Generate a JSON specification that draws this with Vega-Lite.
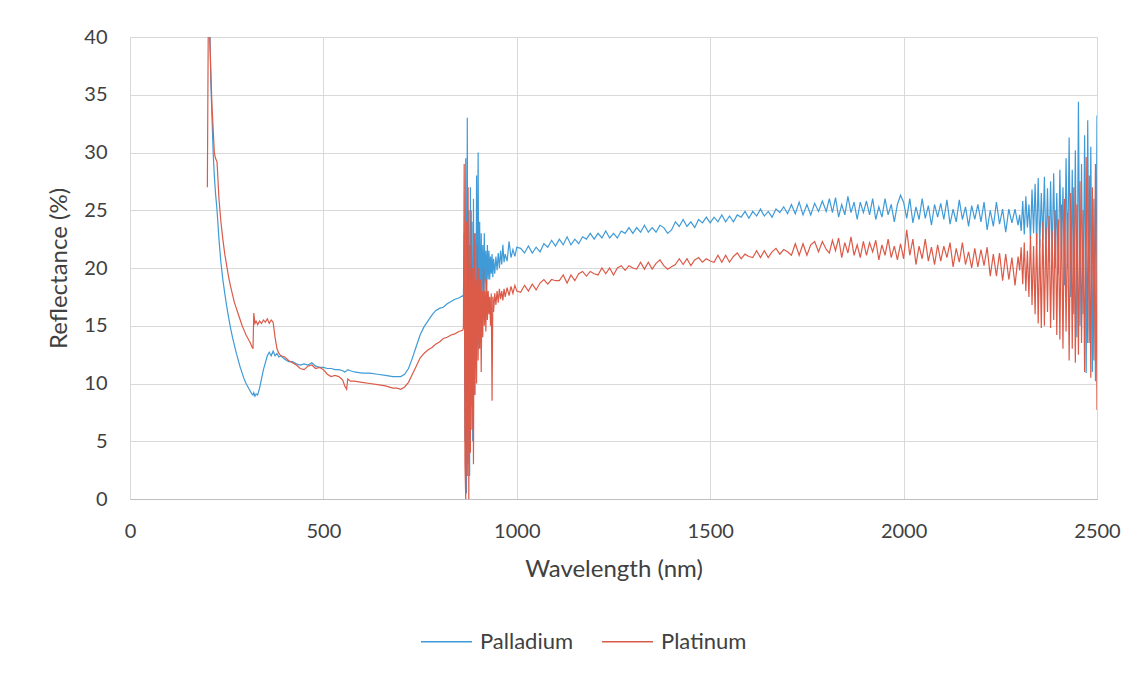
{
  "$schema": "https://vega.github.io/schema/vega-lite/v6.json",
  "width": 967,
  "height": 462,
  "autosize": {"type": "none"},
  "padding": {"left": 130, "top": 37, "right": 44, "bottom": 178},
  "background": "white",
  "config": {"font": "Lato", "view": {"stroke": "#d9d9d9", "strokeWidth": 1}},
  "data": {"values": [
    {"w":200,"Palladium":40.5,"Platinum":27},
    {"w":203,"Palladium":45,"Platinum":45},
    {"w":206,"Palladium":42,"Platinum":40},
    {"w":209,"Palladium":36,"Platinum":37},
    {"w":212,"Palladium":33,"Platinum":34},
    {"w":215,"Palladium":30,"Platinum":32},
    {"w":218,"Palladium":28,"Platinum":30},
    {"w":221,"Palladium":26.5,"Platinum":29.5},
    {"w":225,"Palladium":25,"Platinum":29.2},
    {"w":230,"Palladium":22.5,"Platinum":26},
    {"w":235,"Palladium":20.5,"Platinum":24},
    {"w":240,"Palladium":19,"Platinum":22.5},
    {"w":245,"Palladium":17.8,"Platinum":21.2},
    {"w":250,"Palladium":16.7,"Platinum":20.2},
    {"w":255,"Palladium":15.7,"Platinum":19.2},
    {"w":260,"Palladium":14.8,"Platinum":18.4},
    {"w":265,"Palladium":14,"Platinum":17.7},
    {"w":270,"Palladium":13.3,"Platinum":17},
    {"w":275,"Palladium":12.6,"Platinum":16.5},
    {"w":280,"Palladium":12,"Platinum":16},
    {"w":285,"Palladium":11.4,"Platinum":15.5},
    {"w":290,"Palladium":10.9,"Platinum":15},
    {"w":295,"Palladium":10.4,"Platinum":14.6},
    {"w":300,"Palladium":10,"Platinum":14.2},
    {"w":305,"Palladium":9.7,"Platinum":13.9},
    {"w":310,"Palladium":9.4,"Platinum":13.6},
    {"w":315,"Palladium":9.1,"Platinum":13.2},
    {"w":318,"Palladium":9,"Platinum":13},
    {"w":320,"Palladium":9.2,"Platinum":16.1},
    {"w":323,"Palladium":8.9,"Platinum":15.2},
    {"w":326,"Palladium":9.1,"Platinum":15.4},
    {"w":330,"Palladium":9,"Platinum":15.1},
    {"w":335,"Palladium":9.6,"Platinum":15.4},
    {"w":340,"Palladium":10.4,"Platinum":15.2},
    {"w":345,"Palladium":11.2,"Platinum":15.5},
    {"w":350,"Palladium":11.8,"Platinum":15.3},
    {"w":355,"Palladium":12.4,"Platinum":15.6},
    {"w":360,"Palladium":12.7,"Platinum":15.2},
    {"w":365,"Palladium":12.4,"Platinum":15.5},
    {"w":370,"Palladium":12.8,"Platinum":15.3},
    {"w":375,"Palladium":12.4,"Platinum":14},
    {"w":380,"Palladium":12.6,"Platinum":13},
    {"w":385,"Palladium":12.3,"Platinum":12.6},
    {"w":390,"Palladium":12.4,"Platinum":12.4},
    {"w":400,"Palladium":12.1,"Platinum":12.3},
    {"w":410,"Palladium":11.9,"Platinum":12},
    {"w":420,"Palladium":11.9,"Platinum":11.8},
    {"w":430,"Palladium":11.7,"Platinum":11.6},
    {"w":440,"Palladium":11.6,"Platinum":11.3},
    {"w":450,"Palladium":11.7,"Platinum":11.2},
    {"w":460,"Palladium":11.6,"Platinum":11.5},
    {"w":470,"Palladium":11.8,"Platinum":11.6},
    {"w":480,"Palladium":11.5,"Platinum":11.3},
    {"w":490,"Palladium":11.4,"Platinum":11.4},
    {"w":500,"Palladium":11.4,"Platinum":11.2},
    {"w":510,"Palladium":11.3,"Platinum":10.8},
    {"w":520,"Palladium":11.3,"Platinum":10.6},
    {"w":530,"Palladium":11.2,"Platinum":10.7},
    {"w":540,"Palladium":11.2,"Platinum":10.6},
    {"w":550,"Palladium":11.1,"Platinum":10.3},
    {"w":555,"Palladium":11,"Platinum":9.8},
    {"w":560,"Palladium":11.1,"Platinum":9.5},
    {"w":563,"Palladium":11.2,"Platinum":10.4},
    {"w":570,"Palladium":11.1,"Platinum":10.2},
    {"w":580,"Palladium":11,"Platinum":10.2},
    {"w":600,"Palladium":10.9,"Platinum":10.1},
    {"w":620,"Palladium":10.9,"Platinum":10},
    {"w":640,"Palladium":10.8,"Platinum":9.9},
    {"w":660,"Palladium":10.7,"Platinum":9.8},
    {"w":680,"Palladium":10.6,"Platinum":9.6},
    {"w":690,"Palladium":10.6,"Platinum":9.6},
    {"w":700,"Palladium":10.6,"Platinum":9.5},
    {"w":710,"Palladium":10.8,"Platinum":9.7},
    {"w":720,"Palladium":11.3,"Platinum":10.1},
    {"w":730,"Palladium":12.2,"Platinum":10.8},
    {"w":740,"Palladium":13.2,"Platinum":11.5},
    {"w":750,"Palladium":14.2,"Platinum":12.2},
    {"w":760,"Palladium":14.9,"Platinum":12.6},
    {"w":770,"Palladium":15.4,"Platinum":12.9},
    {"w":780,"Palladium":15.9,"Platinum":13.1},
    {"w":790,"Palladium":16.3,"Platinum":13.4},
    {"w":800,"Palladium":16.5,"Platinum":13.6},
    {"w":810,"Palladium":16.6,"Platinum":13.9},
    {"w":820,"Palladium":16.9,"Platinum":14},
    {"w":830,"Palladium":17.1,"Platinum":14.2},
    {"w":840,"Palladium":17.3,"Platinum":14.3},
    {"w":850,"Palladium":17.4,"Platinum":14.5},
    {"w":860,"Palladium":17.6,"Platinum":14.6},
    {"w":862,"Palladium":17.5,"Platinum":14.8},
    {"w":864,"Palladium":23,"Platinum":29},
    {"w":866,"Palladium":5,"Platinum":3},
    {"w":868,"Palladium":29.5,"Platinum":0},
    {"w":870,"Palladium":0.5,"Platinum":24},
    {"w":872,"Palladium":33,"Platinum":2},
    {"w":874,"Palladium":3,"Platinum":27},
    {"w":876,"Palladium":25,"Platinum":0},
    {"w":878,"Palladium":2,"Platinum":22},
    {"w":880,"Palladium":27,"Platinum":4},
    {"w":882,"Palladium":8,"Platinum":25},
    {"w":884,"Palladium":24,"Platinum":6},
    {"w":886,"Palladium":5,"Platinum":20},
    {"w":888,"Palladium":26,"Platinum":3},
    {"w":890,"Palladium":9,"Platinum":23},
    {"w":892,"Palladium":23,"Platinum":9},
    {"w":894,"Palladium":12,"Platinum":19},
    {"w":896,"Palladium":28,"Platinum":10},
    {"w":898,"Palladium":14,"Platinum":22},
    {"w":900,"Palladium":30,"Platinum":12},
    {"w":902,"Palladium":13,"Platinum":20},
    {"w":904,"Palladium":24,"Platinum":13},
    {"w":906,"Palladium":16,"Platinum":19},
    {"w":908,"Palladium":23,"Platinum":11},
    {"w":910,"Palladium":17,"Platinum":18},
    {"w":912,"Palladium":22,"Platinum":14},
    {"w":914,"Palladium":18,"Platinum":20},
    {"w":916,"Palladium":23,"Platinum":15},
    {"w":918,"Palladium":18,"Platinum":18},
    {"w":920,"Palladium":21.5,"Platinum":14.5},
    {"w":922,"Palladium":18.5,"Platinum":19},
    {"w":924,"Palladium":22,"Platinum":15.5},
    {"w":926,"Palladium":19,"Platinum":18},
    {"w":928,"Palladium":21.5,"Platinum":16},
    {"w":930,"Palladium":19,"Platinum":17.5},
    {"w":932,"Palladium":21,"Platinum":15},
    {"w":934,"Palladium":19.5,"Platinum":17.8},
    {"w":936,"Palladium":21.2,"Platinum":8.5},
    {"w":938,"Palladium":19.2,"Platinum":17.5},
    {"w":940,"Palladium":20.8,"Platinum":16.2},
    {"w":943,"Palladium":19.5,"Platinum":17.8},
    {"w":946,"Palladium":21,"Platinum":16.8},
    {"w":949,"Palladium":19.8,"Platinum":18},
    {"w":952,"Palladium":21.3,"Platinum":17},
    {"w":955,"Palladium":20,"Platinum":18.2},
    {"w":958,"Palladium":21.5,"Platinum":17.3},
    {"w":961,"Palladium":20.3,"Platinum":18},
    {"w":964,"Palladium":22,"Platinum":17.2},
    {"w":967,"Palladium":20.5,"Platinum":18.2},
    {"w":970,"Palladium":21.2,"Platinum":17.5},
    {"w":975,"Palladium":20.6,"Platinum":18.3},
    {"w":980,"Palladium":22.3,"Platinum":17.6},
    {"w":985,"Palladium":20.9,"Platinum":18.4},
    {"w":990,"Palladium":21.6,"Platinum":17.8},
    {"w":995,"Palladium":21,"Platinum":18.5},
    {"w":1000,"Palladium":21.8,"Platinum":18},
    {"w":1010,"Palladium":21.7,"Platinum":17.9},
    {"w":1020,"Palladium":21.3,"Platinum":18.5},
    {"w":1030,"Palladium":21.9,"Platinum":18},
    {"w":1040,"Palladium":21.3,"Platinum":18.6},
    {"w":1050,"Palladium":21.8,"Platinum":18.1},
    {"w":1060,"Palladium":21.4,"Platinum":18.7},
    {"w":1070,"Palladium":22.1,"Platinum":19},
    {"w":1080,"Palladium":21.8,"Platinum":18.6},
    {"w":1090,"Palladium":22.4,"Platinum":19},
    {"w":1100,"Palladium":21.9,"Platinum":18.9},
    {"w":1110,"Palladium":22.5,"Platinum":18.9},
    {"w":1120,"Palladium":22,"Platinum":19.4},
    {"w":1130,"Palladium":22.7,"Platinum":18.7},
    {"w":1140,"Palladium":22,"Platinum":19.4},
    {"w":1150,"Palladium":22.5,"Platinum":18.9},
    {"w":1160,"Palladium":22.1,"Platinum":19.5},
    {"w":1170,"Palladium":22.7,"Platinum":19.7},
    {"w":1180,"Palladium":22.5,"Platinum":19.3},
    {"w":1190,"Palladium":23,"Platinum":19.7},
    {"w":1200,"Palladium":22.5,"Platinum":19.5},
    {"w":1210,"Palladium":23,"Platinum":19.4},
    {"w":1220,"Palladium":22.6,"Platinum":20},
    {"w":1230,"Palladium":23.2,"Platinum":19.5},
    {"w":1240,"Palladium":22.6,"Platinum":20},
    {"w":1250,"Palladium":23,"Platinum":19.4},
    {"w":1260,"Palladium":22.6,"Platinum":20},
    {"w":1270,"Palladium":23.2,"Platinum":20.2},
    {"w":1280,"Palladium":23,"Platinum":19.8},
    {"w":1290,"Palladium":23.5,"Platinum":20.2},
    {"w":1300,"Palladium":23,"Platinum":20},
    {"w":1310,"Palladium":23.5,"Platinum":19.9},
    {"w":1320,"Palladium":23.1,"Platinum":20.5},
    {"w":1330,"Palladium":23.7,"Platinum":19.9},
    {"w":1340,"Palladium":23.1,"Platinum":20.5},
    {"w":1350,"Palladium":23.5,"Platinum":19.9},
    {"w":1360,"Palladium":23.1,"Platinum":20.4},
    {"w":1370,"Palladium":23.7,"Platinum":20.7},
    {"w":1380,"Palladium":23.5,"Platinum":20.2},
    {"w":1390,"Palladium":23,"Platinum":19.9},
    {"w":1400,"Palladium":23.3,"Platinum":20.1},
    {"w":1410,"Palladium":24,"Platinum":20.3},
    {"w":1420,"Palladium":23.6,"Platinum":20.8},
    {"w":1430,"Palladium":24.2,"Platinum":20.3},
    {"w":1440,"Palladium":23.6,"Platinum":20.8},
    {"w":1450,"Palladium":24,"Platinum":20.2},
    {"w":1460,"Palladium":23.5,"Platinum":20.7},
    {"w":1470,"Palladium":24.2,"Platinum":20.9},
    {"w":1480,"Palladium":23.9,"Platinum":20.5},
    {"w":1490,"Palladium":24.4,"Platinum":20.8},
    {"w":1500,"Palladium":23.9,"Platinum":20.6},
    {"w":1510,"Palladium":24.4,"Platinum":20.5},
    {"w":1520,"Palladium":24,"Platinum":21.1},
    {"w":1530,"Palladium":24.6,"Platinum":20.5},
    {"w":1540,"Palladium":24,"Platinum":21.1},
    {"w":1550,"Palladium":24.5,"Platinum":20.5},
    {"w":1560,"Palladium":24,"Platinum":21},
    {"w":1570,"Palladium":24.6,"Platinum":21.3},
    {"w":1580,"Palladium":24.4,"Platinum":20.8},
    {"w":1590,"Palladium":24.9,"Platinum":21.2},
    {"w":1600,"Palladium":24.3,"Platinum":21},
    {"w":1610,"Palladium":24.9,"Platinum":20.9},
    {"w":1620,"Palladium":24.5,"Platinum":21.5},
    {"w":1630,"Palladium":25.1,"Platinum":20.9},
    {"w":1640,"Palladium":24.5,"Platinum":21.5},
    {"w":1650,"Palladium":24.9,"Platinum":20.9},
    {"w":1660,"Palladium":24.4,"Platinum":21.4},
    {"w":1670,"Palladium":25.1,"Platinum":21.7},
    {"w":1680,"Palladium":24.8,"Platinum":21.2},
    {"w":1690,"Palladium":25.3,"Platinum":21.6},
    {"w":1700,"Palladium":24.7,"Platinum":21.4},
    {"w":1710,"Palladium":25.5,"Platinum":21.1},
    {"w":1720,"Palladium":24.7,"Platinum":22.1},
    {"w":1730,"Palladium":25.7,"Platinum":21.1},
    {"w":1740,"Palladium":24.6,"Platinum":22.1},
    {"w":1750,"Palladium":25.5,"Platinum":21.1},
    {"w":1760,"Palladium":24.6,"Platinum":22},
    {"w":1770,"Palladium":25.6,"Platinum":22.3},
    {"w":1780,"Palladium":24.9,"Platinum":21.4},
    {"w":1790,"Palladium":25.8,"Platinum":22.3},
    {"w":1800,"Palladium":24.9,"Platinum":21.6},
    {"w":1808,"Palladium":26,"Platinum":21.3},
    {"w":1816,"Palladium":24.8,"Platinum":22.4},
    {"w":1824,"Palladium":26.1,"Platinum":21.5},
    {"w":1832,"Palladium":24.4,"Platinum":22.6},
    {"w":1840,"Palladium":25.5,"Platinum":20.9},
    {"w":1848,"Palladium":24.6,"Platinum":22.2},
    {"w":1856,"Palladium":26.2,"Platinum":21.3},
    {"w":1864,"Palladium":24.8,"Platinum":22.7},
    {"w":1872,"Palladium":25.7,"Platinum":21.1},
    {"w":1880,"Palladium":24.2,"Platinum":22},
    {"w":1888,"Palladium":25.7,"Platinum":20.9},
    {"w":1896,"Palladium":24.8,"Platinum":22.3},
    {"w":1904,"Palladium":25.8,"Platinum":21.1},
    {"w":1912,"Palladium":24.6,"Platinum":22.2},
    {"w":1920,"Palladium":26,"Platinum":21.4},
    {"w":1928,"Palladium":24.2,"Platinum":22.4},
    {"w":1936,"Palladium":25.3,"Platinum":20.7},
    {"w":1944,"Palladium":24.4,"Platinum":22},
    {"w":1952,"Palladium":26,"Platinum":21.1},
    {"w":1960,"Palladium":24.6,"Platinum":22.5},
    {"w":1968,"Palladium":25.5,"Platinum":20.9},
    {"w":1976,"Palladium":24,"Platinum":21.9},
    {"w":1984,"Palladium":25.5,"Platinum":20.7},
    {"w":1992,"Palladium":26.3,"Platinum":22.1},
    {"w":2000,"Palladium":25.7,"Platinum":20.8},
    {"w":2008,"Palladium":24.3,"Platinum":23.3},
    {"w":2016,"Palladium":26,"Platinum":21.1},
    {"w":2024,"Palladium":23.9,"Platinum":22.5},
    {"w":2032,"Palladium":25.3,"Platinum":20.3},
    {"w":2040,"Palladium":24.2,"Platinum":21.9},
    {"w":2048,"Palladium":26,"Platinum":20.8},
    {"w":2056,"Palladium":24.3,"Platinum":22.5},
    {"w":2064,"Palladium":25.4,"Platinum":20.6},
    {"w":2072,"Palladium":23.7,"Platinum":21.8},
    {"w":2080,"Palladium":25.5,"Platinum":20.3},
    {"w":2088,"Palladium":24.4,"Platinum":22},
    {"w":2096,"Palladium":25.6,"Platinum":20.6},
    {"w":2104,"Palladium":24.2,"Platinum":21.9},
    {"w":2112,"Palladium":25.9,"Platinum":20.9},
    {"w":2120,"Palladium":23.8,"Platinum":22.2},
    {"w":2128,"Palladium":25.1,"Platinum":20.1},
    {"w":2136,"Palladium":24,"Platinum":21.7},
    {"w":2144,"Palladium":25.9,"Platinum":20.5},
    {"w":2152,"Palladium":24.2,"Platinum":22.2},
    {"w":2160,"Palladium":25.3,"Platinum":20.3},
    {"w":2168,"Palladium":23.6,"Platinum":21.4},
    {"w":2176,"Palladium":25.4,"Platinum":20},
    {"w":2184,"Palladium":24.2,"Platinum":21.7},
    {"w":2192,"Palladium":25.5,"Platinum":20.1},
    {"w":2200,"Palladium":24,"Platinum":21.6},
    {"w":2208,"Palladium":25.7,"Platinum":20.2},
    {"w":2216,"Palladium":23.3,"Platinum":21.8},
    {"w":2224,"Palladium":25,"Platinum":19.3},
    {"w":2232,"Palladium":23.6,"Platinum":21.2},
    {"w":2240,"Palladium":25.7,"Platinum":19.3},
    {"w":2248,"Palladium":23.8,"Platinum":21.3},
    {"w":2256,"Palladium":25.1,"Platinum":18.9},
    {"w":2264,"Palladium":23.1,"Platinum":21.2},
    {"w":2272,"Palladium":25.1,"Platinum":19},
    {"w":2280,"Palladium":23.9,"Platinum":20.9},
    {"w":2288,"Palladium":25.1,"Platinum":18.5},
    {"w":2296,"Palladium":23.7,"Platinum":21},
    {"w":2300,"Palladium":24.6,"Platinum":19.8},
    {"w":2304,"Palladium":23.2,"Platinum":21.8},
    {"w":2308,"Palladium":25.8,"Platinum":18.6},
    {"w":2312,"Palladium":22.9,"Platinum":22.2},
    {"w":2316,"Palladium":26.2,"Platinum":18},
    {"w":2320,"Palladium":23.5,"Platinum":21.5},
    {"w":2324,"Palladium":25.5,"Platinum":17.5},
    {"w":2328,"Palladium":22.5,"Platinum":22.8},
    {"w":2332,"Palladium":26.8,"Platinum":16.8},
    {"w":2336,"Palladium":23,"Platinum":21.9},
    {"w":2340,"Palladium":27.3,"Platinum":16},
    {"w":2344,"Palladium":22,"Platinum":23},
    {"w":2348,"Palladium":27.8,"Platinum":15.2},
    {"w":2352,"Palladium":21.8,"Platinum":22.5},
    {"w":2356,"Palladium":26.5,"Platinum":14.8},
    {"w":2360,"Palladium":22.4,"Platinum":24},
    {"w":2364,"Palladium":27.9,"Platinum":15},
    {"w":2368,"Palladium":21.2,"Platinum":23.5},
    {"w":2372,"Palladium":26.9,"Platinum":16.2},
    {"w":2376,"Palladium":20.5,"Platinum":24.5},
    {"w":2380,"Palladium":27.5,"Platinum":14.8},
    {"w":2384,"Palladium":21,"Platinum":23.2},
    {"w":2388,"Palladium":28.2,"Platinum":15.5},
    {"w":2392,"Palladium":20,"Platinum":25},
    {"w":2396,"Palladium":26.5,"Platinum":14.2},
    {"w":2400,"Palladium":19.5,"Platinum":24.2},
    {"w":2404,"Palladium":28.5,"Platinum":13.8},
    {"w":2408,"Palladium":21,"Platinum":25.5},
    {"w":2412,"Palladium":27,"Platinum":13},
    {"w":2416,"Palladium":18.5,"Platinum":26},
    {"w":2420,"Palladium":29.5,"Platinum":14.5},
    {"w":2424,"Palladium":20,"Platinum":24.8},
    {"w":2428,"Palladium":31.3,"Platinum":12},
    {"w":2432,"Palladium":17.5,"Platinum":26.5},
    {"w":2436,"Palladium":28.5,"Platinum":13},
    {"w":2440,"Palladium":16,"Platinum":27},
    {"w":2444,"Palladium":30.2,"Platinum":11.8},
    {"w":2448,"Palladium":14,"Platinum":25.5},
    {"w":2452,"Palladium":34.4,"Platinum":12.5},
    {"w":2456,"Palladium":15,"Platinum":27.5},
    {"w":2460,"Palladium":29,"Platinum":13.5},
    {"w":2464,"Palladium":16,"Platinum":25},
    {"w":2468,"Palladium":31.5,"Platinum":11},
    {"w":2472,"Palladium":10.9,"Platinum":29.6},
    {"w":2476,"Palladium":32.8,"Platinum":13.5},
    {"w":2480,"Palladium":13.5,"Platinum":28},
    {"w":2484,"Palladium":30.5,"Platinum":10.5},
    {"w":2488,"Palladium":11,"Platinum":27},
    {"w":2492,"Palladium":26,"Platinum":12},
    {"w":2496,"Palladium":10.2,"Platinum":29},
    {"w":2500,"Palladium":33.2,"Platinum":7.7}
  ]},
  "transform": [{"fold": ["Palladium", "Platinum"], "as": ["series", "r"]}],
  "mark": {"type": "line", "strokeWidth": 1.2, "clip": true},
  "encoding": {
    "x": {
      "field": "w", "type": "quantitative",
      "scale": {"domain": [0, 2500], "nice": false, "zero": false},
      "axis": {
        "values": [0, 500, 1000, 1500, 2000, 2500],
        "format": "d",
        "labelFlush": false,
        "title": "Wavelength (nm)",
        "grid": true, "gridColor": "#d9d9d9",
        "domainColor": "#bfbfbf", "ticks": false,
        "labelFontSize": 20, "labelColor": "#404040", "labelPadding": 22,
        "titleFontSize": 24, "titleFontWeight": "normal", "titleColor": "#404040", "titlePadding": 16
      }
    },
    "y": {
      "field": "r", "type": "quantitative",
      "scale": {"domain": [0, 40], "nice": false},
      "axis": {
        "values": [0, 5, 10, 15, 20, 25, 30, 35, 40],
        "format": "d",
        "labelFlush": false,
        "title": "Reflectance (%)",
        "grid": true, "gridColor": "#d9d9d9",
        "domain": false, "ticks": false,
        "labelFontSize": 20, "labelColor": "#404040", "labelPadding": 23,
        "titleFontSize": 24, "titleFontWeight": "normal", "titleColor": "#404040", "titlePadding": 12
      }
    },
    "color": {
      "field": "series", "type": "nominal",
      "scale": {"domain": ["Palladium", "Platinum"], "range": ["#3f9bd8", "#dc5a48"]},
      "legend": {
        "title": null, "orient": "none", "direction": "horizontal",
        "legendX": 290, "legendY": 578,
        "symbolType": "stroke", "symbolSize": 2600, "symbolStrokeWidth": 1.5,
        "labelFontSize": 22, "labelColor": "#404040", "labelOffset": 7,
        "columnPadding": 25
      }
    }
  }
}
